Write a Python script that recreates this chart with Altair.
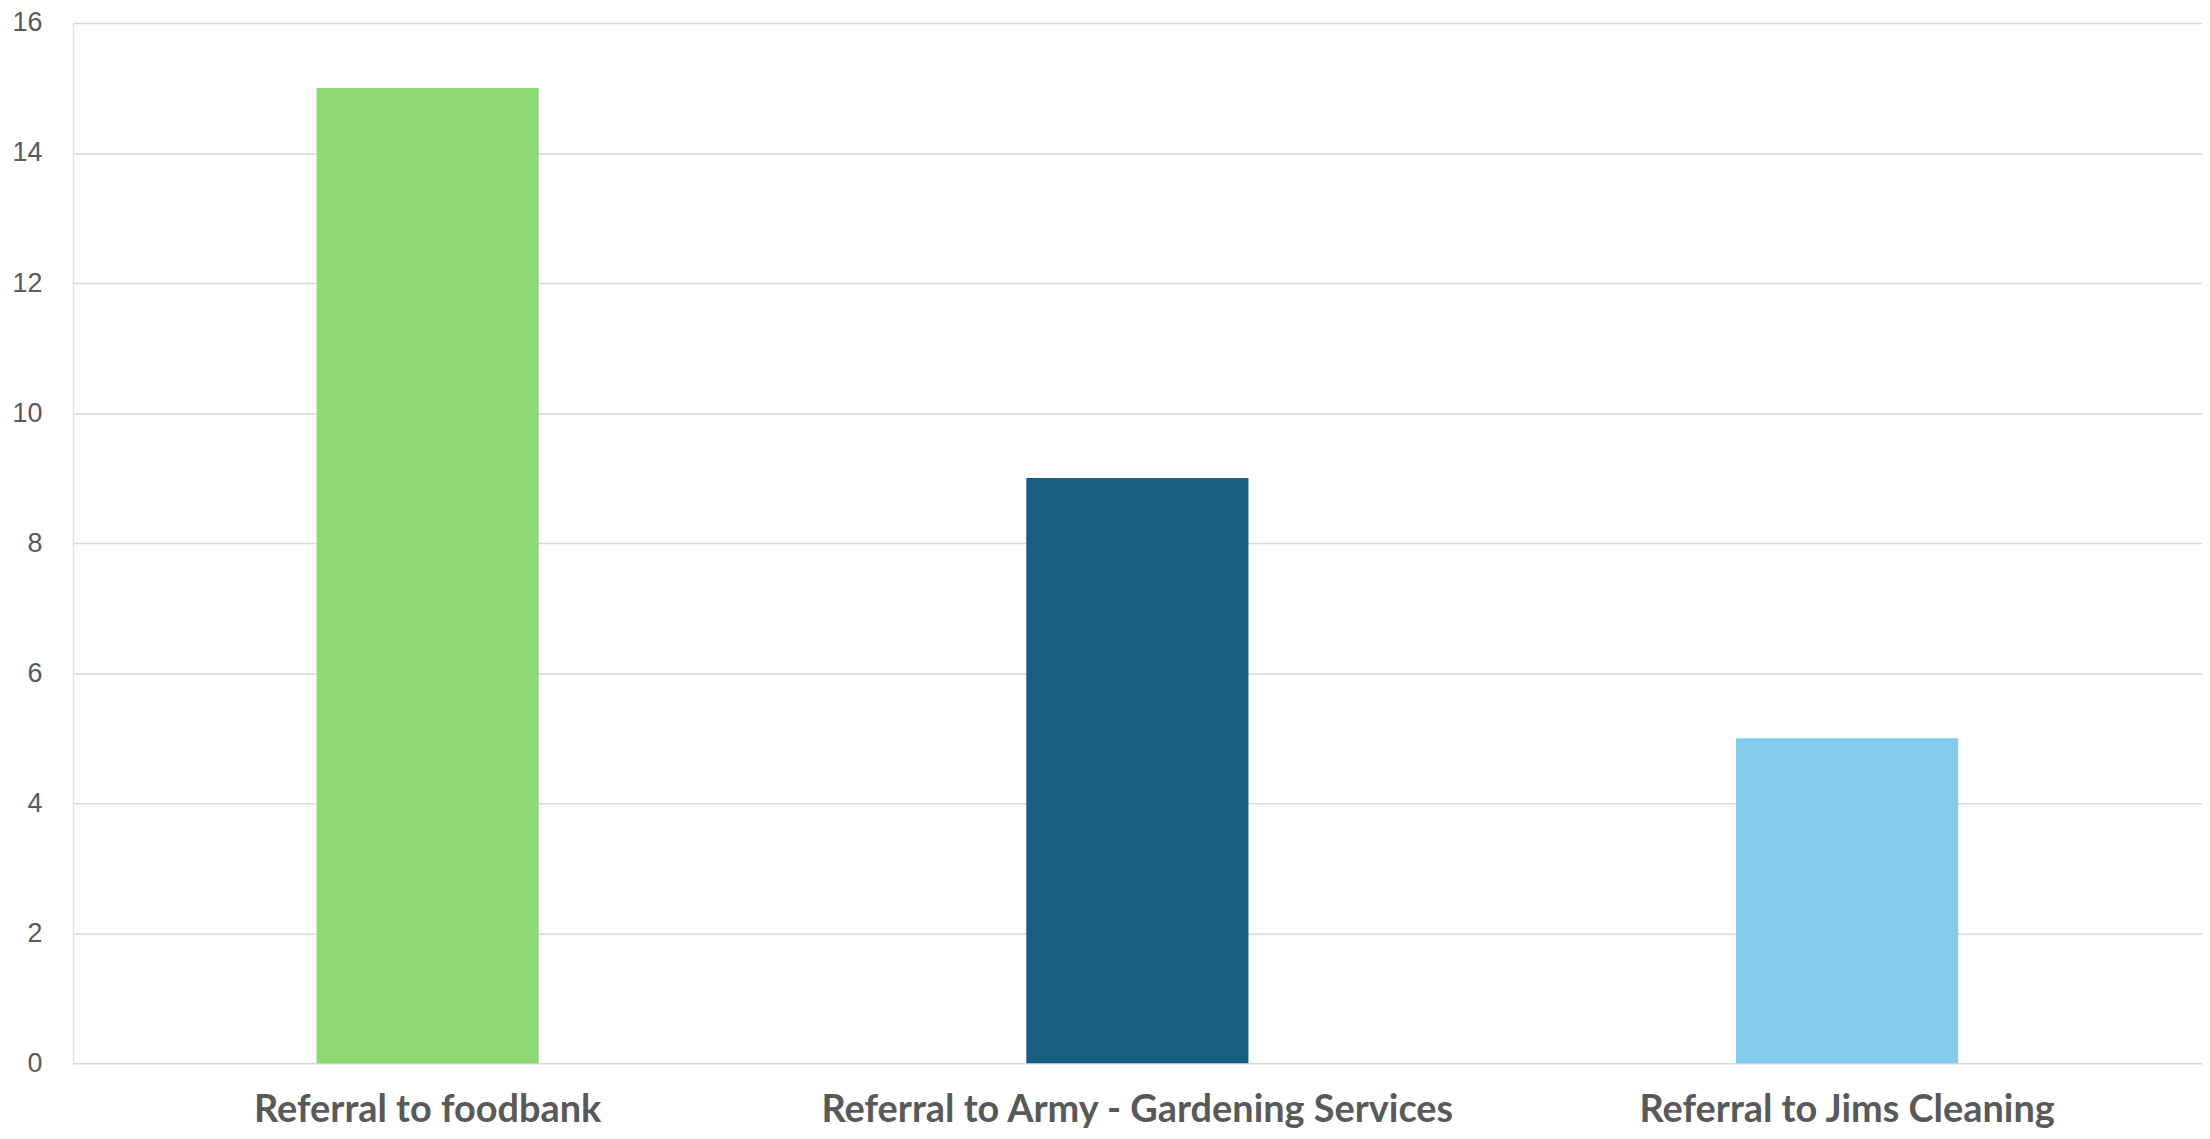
import altair as alt
import pandas as pd

categories = ["Referral to foodbank", "Referral to Army - Gardening Services", "Referral to Jims Cleaning"]
values = [15, 9, 5]
colors = ["#8FD974", "#165F82", "#83CBEB"]

df = pd.DataFrame({"category": categories, "value": values, "color": colors})

chart = alt.Chart(df).mark_bar().encode(
    x=alt.X("category:N", sort=categories, title=None,
            scale=alt.Scale(paddingInner=0.687, paddingOuter=0.3435),
            axis=alt.Axis(labelAngle=0, labelFont="Lato", labelFontWeight="bold",
                          labelFontSize=38, labelColor="#595959", labelPadding=29,
                          domain=False, ticks=False, labelLimit=1000)),
    y=alt.Y("value:Q", title=None,
            scale=alt.Scale(domain=[0, 16]),
            axis=alt.Axis(values=list(range(0, 17, 2)), labelFont="Liberation Sans",
                          labelFontSize=27, labelColor="#595959", labelPadding=31,
                          domain=False, ticks=False, gridColor="#D9D9D9", gridWidth=1.5)),
    color=alt.Color("color:N", scale=None),
).properties(
    width=2137, height=1044,
    autosize=alt.AutoSizeParams(type="none"),
    padding={"left": 65, "top": 13, "right": 0, "bottom": 68},
).configure_view(stroke=None).configure(background="white")

chart.save("out.html", embed_options={"renderer": "svg", "actions": False})
